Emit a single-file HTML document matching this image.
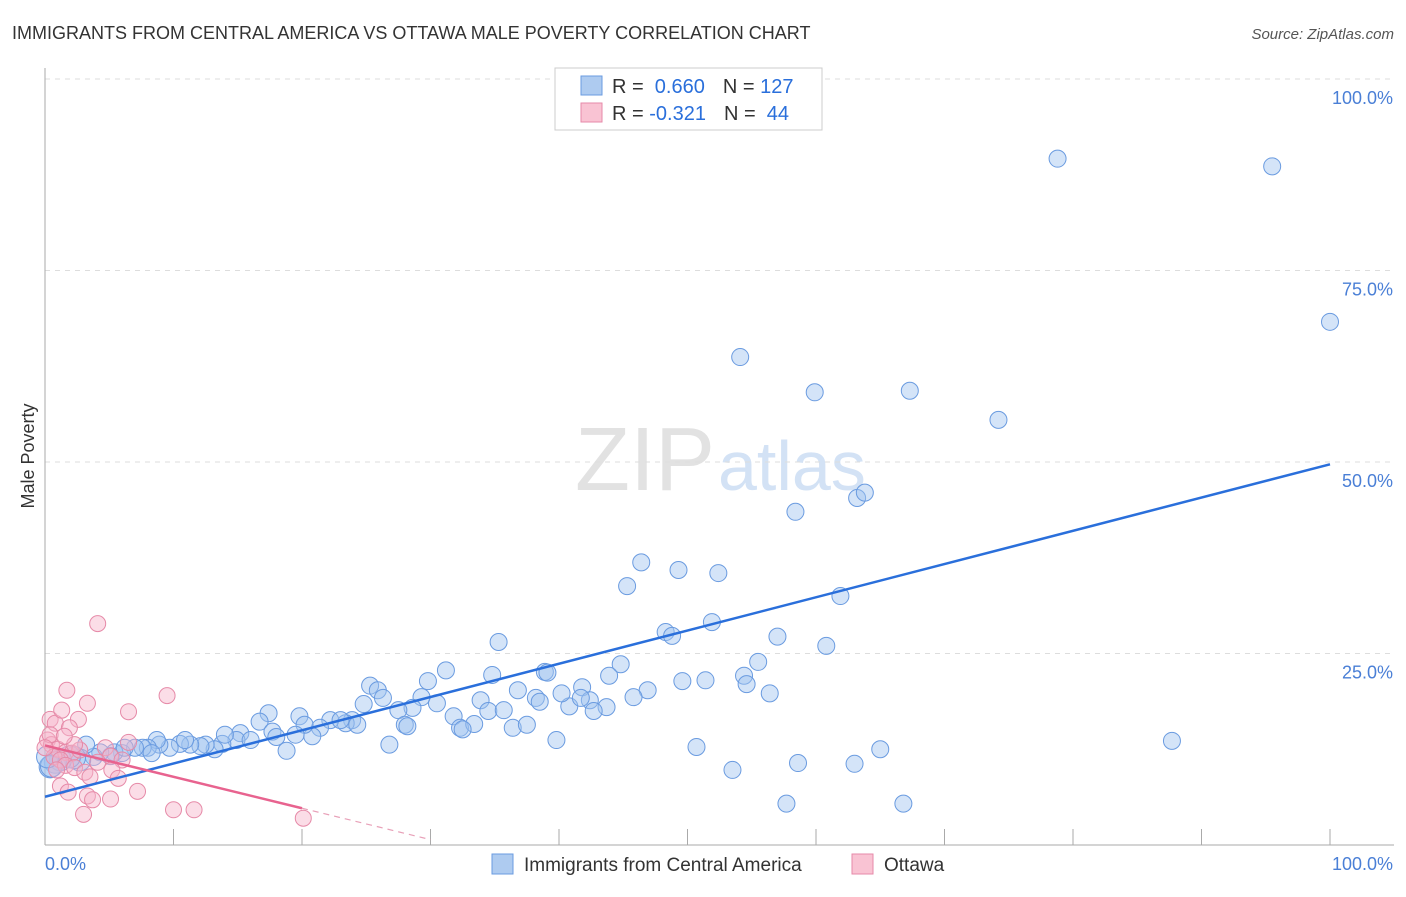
<!DOCTYPE html>
<html><head><meta charset="utf-8"><style>
body{margin:0;background:#fff;font-family:"Liberation Sans",sans-serif;}
svg text{font-family:"Liberation Sans",sans-serif;}
</style></head><body>
<svg id="chart" width="1406" height="892" viewBox="0 0 1406 892">
<text x="12" y="39" font-size="18" fill="#333">IMMIGRANTS FROM CENTRAL AMERICA VS OTTAWA MALE POVERTY CORRELATION CHART</text>
<text x="1394" y="39" font-size="15" fill="#555" font-style="italic" text-anchor="end">Source: ZipAtlas.com</text>
<text x="715" y="490" font-size="90" fill="#e2e2e2" text-anchor="end" font-family="Liberation Serif">ZIP</text>
<text x="718" y="490" font-size="70" fill="#d3e2f5">atlas</text>
<g id="grid"></g><g id="axes"></g><g id="marks"></g>
<text x="34" y="456" font-size="18" fill="#333" text-anchor="middle" transform="rotate(-90 34 456)">Male Poverty</text>
<g>
<rect x="555" y="68" width="267" height="62" fill="#fff" stroke="#ccc"/>
<rect x="581" y="76" width="21" height="19" fill="#aecbf0" stroke="#6a9be0"/>
<rect x="581" y="103" width="21" height="19" fill="#f9c3d3" stroke="#e68aa8"/>
<text x="612" y="93" font-size="20" fill="#333">R = <tspan fill="#2a6fdb">&#160;0.660</tspan><tspan dx="18">N = </tspan><tspan fill="#2a6fdb">127</tspan></text>
<text x="612" y="120" font-size="20" fill="#333">R = <tspan fill="#2a6fdb">-0.321</tspan><tspan dx="18">N = </tspan><tspan fill="#2a6fdb">&#160;44</tspan></text>
</g>
<g>
<rect x="492" y="854" width="21" height="20" fill="#aecbf0" stroke="#6a9be0"/>
<text x="524" y="871" font-size="19" fill="#333">Immigrants from Central America</text>
<rect x="852" y="854" width="21" height="20" fill="#f9c3d3" stroke="#e68aa8"/>
<text x="884" y="871" font-size="19" fill="#333">Ottawa</text>
</g>
</svg>
<script>
const blueX=[78.8,95.5,100,54.1,59.9,67.3,74.2,63.2,63.8,58.4,46.4,45.3,49.3,52.4,61.9,35.3,48.3,48.8,51.9,57.0,60.8,44.8,43.9,55.5,54.4,54.6,56.4,49.6,51.4,46.9,45.8,41.8,42.4,40.8,41.7,43.7,42.7,40.2,36.8,38.2,38.5,38.9,39.1,31.2,29.8,34.8,33.9,34.5,35.7,30.5,29.3,28.6,27.5,25.3,25.9,26.3,24.8,23.9,23.4,24.3,28.0,28.2,26.8,31.8,32.3,33.4,32.5,36.4,37.5,39.8,50.7,53.5,57.7,58.6,63.0,65.0,66.8,87.7,22.2,21.4,20.8,19.8,20.2,19.5,18.8,17.4,16.7,17.7,18.0,15.2,14.9,13.8,13.2,12.5,12.1,11.3,10.5,9.7,8.9,8.7,8.0,7.6,7.0,6.0,5.4,5.1,4.3,3.8,3.2,2.7,2.3,1.9,1.2,0.8,0.4,0.5,0.2,8.3,6.2,10.9,14.0,16.0,23.0];
const blueY=[89.6,88.6,68.3,63.7,59.1,59.3,55.5,45.3,46.0,43.5,36.9,33.8,35.9,35.5,32.5,26.5,27.8,27.3,29.1,27.2,26.0,23.6,22.1,23.9,22.1,21.0,19.8,21.4,21.5,20.2,19.3,20.6,18.9,18.1,19.2,18.0,17.5,19.8,20.2,19.2,18.7,22.6,22.5,22.8,21.4,22.2,18.9,17.5,17.6,18.5,19.3,17.9,17.6,20.8,20.2,19.2,18.4,16.3,15.9,15.7,15.7,15.5,13.1,16.8,15.3,15.8,15.1,15.3,15.7,13.7,12.8,9.8,5.4,10.7,10.6,12.5,5.4,13.6,16.3,15.3,14.2,16.8,15.7,14.4,12.3,17.2,16.1,14.8,14.1,14.6,13.7,13.2,12.5,13.1,12.9,13.1,13.2,12.7,13.1,13.7,12.7,12.7,12.7,12.0,12.1,11.6,12.1,11.5,13.1,11.1,11.4,11.5,11.1,10.8,10.2,10.3,11.5,12.0,12.7,13.7,14.4,13.7,16.3];
const pinkX=[4.1,1.7,3.3,9.5,6.5,0.4,2.6,0.8,1.3,1.9,0.2,0.5,1.0,1.6,2.1,2.7,0.7,1.2,1.6,2.3,3.1,3.5,4.7,5.1,6.0,6.5,5.2,5.7,1.2,1.8,3.3,3.7,5.1,7.2,10.0,11.6,3.0,20.1,0.4,0.9,2.3,4.1,1.5,0];
const pinkY=[28.9,20.2,18.5,19.5,17.4,16.4,16.4,15.9,17.6,15.3,13.7,13.1,12.5,12.1,12.0,12.4,11.5,11.1,10.4,10.1,9.5,8.9,12.7,11.6,11.1,13.4,9.8,8.7,7.7,6.9,6.4,5.9,6.0,7.0,4.6,4.6,4.0,3.5,14.4,9.8,13.1,10.8,14.2,12.7];
const blueFit=[6.3,49.7];
const pinkFit=[13.0,-28.0];
const yTicks=[25,50,75,100];
const yTickLabels=["25.0%","50.0%","75.0%","100.0%"];
const xTicks=[0,10,20,30,40,50,60,70,80,90,100];

const NS="http://www.w3.org/2000/svg";
const X=v=>45+v*12.85, Y=v=>845-v*7.66;
function mk(t,a,p){const e=document.createElementNS(NS,t);for(const k in a)e.setAttribute(k,a[k]);p.appendChild(e);return e;}
const grid=document.getElementById('grid'),axes=document.getElementById('axes'),marks=document.getElementById('marks');
yTicks.forEach((t,i)=>{
 const l=mk('line',{x1:45,x2:1394,y1:Y(t),y2:Y(t),stroke:'#ddd','stroke-dasharray':'5,5'},grid);
 
 
 const tx=mk('text',{x:1393,y:Y(t)+25,'font-size':18,fill:'#4a7fd6','text-anchor':'end'},axes);
 tx.textContent=yTickLabels[i];
 
 
});
let a=mk('line',{x1:45,x2:45,y1:68,y2:845,stroke:'#aaa'},axes);


a=mk('line',{x1:45,x2:1394,y1:845,y2:845,stroke:'#aaa'},axes);


xTicks.forEach(t=>{
 const l=mk('line',{x1:X(t),x2:X(t),y1:829,y2:845,stroke:'#aaa'},axes);
 
 
});
let t=mk('text',{x:45,y:870,'font-size':18,fill:'#4a7fd6'},axes);t.textContent='0.0%';


t=mk('text',{x:1393,y:870,'font-size':18,fill:'#4a7fd6','text-anchor':'end'},axes);t.textContent='100.0%';


blueX.forEach((x,i)=>{
 const r=x<3?11:8.5;
 const c=mk('circle',{cx:X(x),cy:Y(blueY[i]),r:r,fill:'rgba(160,196,240,0.45)',stroke:'#6a9be0','stroke-width':1},marks);
 
 
});
pinkX.forEach((x,i)=>{
 const c=mk('circle',{cx:X(x),cy:Y(pinkY[i]),r:8,fill:'rgba(247,180,202,0.45)',stroke:'#e68aa8','stroke-width':1},marks);
 
 
});
const pf=x=>pinkFit[0]+(pinkFit[1]-pinkFit[0])*x/100;
let ln=mk('line',{x1:X(0),y1:Y(blueFit[0]),x2:X(100),y2:Y(blueFit[1]),stroke:'#2a6fdb','stroke-width':2.5},marks);


ln=mk('line',{x1:X(0),y1:Y(pf(0)),x2:X(20),y2:Y(pf(20)),stroke:'#e8638f','stroke-width':2.5},marks);


ln=mk('line',{x1:X(20),y1:Y(pf(20)),x2:X(30),y2:Y(Math.max(pf(30),0)),stroke:'#e8a0b8','stroke-width':1.2,'stroke-dasharray':'6,5'},marks);


</script>
</body></html>
